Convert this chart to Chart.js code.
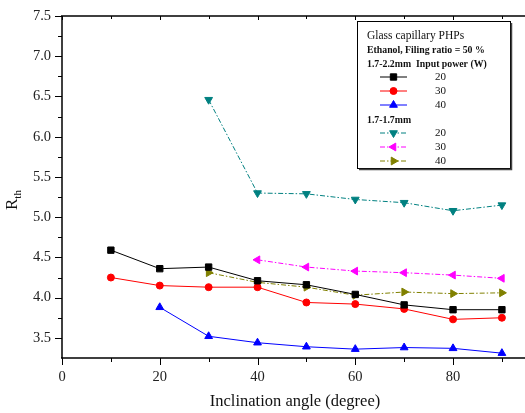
<!DOCTYPE html>
<html>
<head>
<meta charset="utf-8">
<script src="https://cdn.jsdelivr.net/npm/chart.js@4/dist/chart.umd.min.js"></script>
<style>
  html, body { margin: 0; padding: 0; background: #fff; }
  #wrap { width: 525px; height: 413px; }
</style>
</head>
<body>
<div id="wrap"><canvas id="rthChart"></canvas></div>
<script>
// data
const angles = [10, 20, 30, 40, 50, 60, 70, 80, 90];
const rth22_20 = [4.59, 4.36, 4.38, 4.21, 4.16, 4.04, 3.91, 3.85, 3.85];
const rth22_30 = [4.25, 4.15, 4.13, 4.13, 3.94, 3.92, 3.86, 3.73, 3.75];
const rth22_40 = [null, 3.88, 3.52, 3.44, 3.39, 3.36, 3.38, 3.37, 3.31];
const rth17_20 = [null, null, 6.46, 5.30, 5.29, 5.22, 5.18, 5.08, 5.15];
const rth17_30 = [null, null, null, 4.47, 4.38, 4.33, 4.31, 4.28, 4.24];
const rth17_40 = [null, null, 4.31, 4.19, 4.13, 4.03, 4.07, 4.05, 4.06];
const powerLabels = ['20', '30', '40'];

const xTicks = [0, 20, 40, 60, 80];
const xMinor = [10, 30, 50, 70, 90];
const yTicks = [3.5, 4.0, 4.5, 5.0, 5.5, 6.0, 6.5, 7.0, 7.5];
const yMinor = [3.75, 4.25, 4.75, 5.25, 5.75, 6.25, 6.75, 7.25];

const SERIF = "'Liberation Serif', 'Times New Roman', serif";
const dashDot = [5, 2, 1.5, 2];

function pts(vals) {
    return angles.map((a, i) => ({ x: a, y: vals[i] })).filter(p => p.y !== null);
}

function series(vals, color, style, rot, radius, dash) {
    return {
        data: pts(vals),
        borderColor: color,
        backgroundColor: color,
        borderWidth: 1,
        borderDash: dash,
        pointStyle: style,
        rotation: rot,
        pointRadius: radius,
        pointBorderWidth: 1,
        tension: 0
    };
}

const sets = [
    series(rth22_20, '#000000', 'rect', 0, 4.5, []),
    series(rth22_30, '#ff0000', 'circle', 0, 3.5, []),
    series(rth22_40, '#0000ff', 'triangle', 0, 4.5, []),
    series(rth17_20, '#008080', 'triangle', 180, 4.5, dashDot),
    series(rth17_30, '#ff00ff', 'triangle', -90, 4.5, dashDot),
    series(rth17_40, '#808000', 'triangle', 90, 4.5, dashDot)
];

// axes frame, titles and the Origin-style legend box
const framePlugin = {
    id: 'frame',
    afterDraw(chart) {
        const ctx = chart.ctx;
        const xs = chart.scales.x, ys = chart.scales.y;
        const a = chart.chartArea;
        const right = chart.width;
        ctx.save();
        ctx.strokeStyle = '#000';
        ctx.lineWidth = 1.5;
        ctx.beginPath();
        ctx.moveTo(a.left, a.top); ctx.lineTo(a.left, a.bottom);
        ctx.moveTo(a.left - 1, a.bottom); ctx.lineTo(right, a.bottom);
        ctx.moveTo(a.left - 1, a.top); ctx.lineTo(right, a.top);
        ctx.stroke();

        ctx.lineWidth = 1;
        ctx.beginPath();
        xTicks.concat(xMinor).forEach(v => {
            const x = Math.round(xs.getPixelForValue(v)) + 0.5;
            const len = xTicks.includes(v) ? 7 : 4;
            ctx.moveTo(x, a.bottom); ctx.lineTo(x, a.bottom + len);
            ctx.moveTo(x, a.top); ctx.lineTo(x, a.top + (xTicks.includes(v) ? 4 : 3));
        });
        yTicks.concat(yMinor).forEach(v => {
            const y = Math.round(ys.getPixelForValue(v)) + 0.5;
            const len = yTicks.includes(v) ? 7 : 4;
            ctx.moveTo(a.left - len, y); ctx.lineTo(a.left, y);
        });
        ctx.stroke();

        // axis titles
        ctx.fillStyle = '#111';
        ctx.font = '16.5px ' + SERIF;
        ctx.textAlign = 'center';
        ctx.textBaseline = 'alphabetic';
        ctx.fillText('Inclination angle (degree)', 295, 406);

        ctx.save();
        ctx.translate(17, 210);
        ctx.rotate(-Math.PI / 2);
        ctx.textAlign = 'left';
        ctx.font = '17px ' + SERIF;
        ctx.fillText('R', 0, 0);
        const rw = ctx.measureText('R').width;
        ctx.font = '11px ' + SERIF;
        ctx.fillText('th', rw, 4);
        ctx.restore();

        // legend
        const bx = 357, by = 21, bw = 153, bh = 147;
        ctx.fillStyle = '#fff';
        ctx.fillRect(bx, by, bw, bh);
        ctx.lineWidth = 1;
        ctx.strokeStyle = '#000';
        ctx.strokeRect(bx + 0.5, by + 0.5, bw, bh);
        ctx.lineWidth = 1.5;
        ctx.strokeStyle = '#444';
        ctx.beginPath();
        ctx.moveTo(bx + bw + 1.5, by + 2); ctx.lineTo(bx + bw + 1.5, by + bh + 1.5);
        ctx.lineTo(bx + 2, by + bh + 1.5);
        ctx.stroke();

        ctx.fillStyle = '#111';
        ctx.textAlign = 'left';
        ctx.textBaseline = 'middle';
        ctx.font = '11.5px ' + SERIF;
        ctx.fillText('Glass capillary PHPs', 367, 36);
        ctx.font = 'bold 9.8px ' + SERIF;
        ctx.fillText('Ethanol, Filing ratio = 50 %', 367, 50);
        ctx.fillText('1.7-2.2mm  Input power (W)', 367, 64.5);
        ctx.fillText('1.7-1.7mm', 367, 120.5);

        const rowsY = [77, 91, 105, 133, 147, 161];
        sets.forEach((ds, i) => {
            const y = rowsY[i];
            ctx.strokeStyle = ds.borderColor;
            ctx.fillStyle = ds.borderColor;
            ctx.lineWidth = 1;
            ctx.setLineDash(ds.borderDash);
            ctx.beginPath();
            ctx.moveTo(380, y); ctx.lineTo(407, y);
            ctx.stroke();
            ctx.setLineDash([]);
            Chart.helpers.drawPoint(ctx, {
                pointStyle: ds.pointStyle,
                rotation: ds.rotation,
                radius: ds.pointRadius,
                borderWidth: 1
            }, 393.5, y);
            ctx.fillStyle = '#111';
            ctx.font = '11px ' + SERIF;
            ctx.fillText(powerLabels[i % 3], 435, y);
        });
        ctx.restore();
    }
};

const tickFont = { family: SERIF, size: 14.5 };

new Chart(document.getElementById('rthChart').getContext('2d'), {
    type: 'line',
    data: { datasets: sets },
    options: {
        responsive: true,
        maintainAspectRatio: false,
        animation: false,
        layout: { padding: { top: 16, right: 0, bottom: 0, left: 0 } },
        plugins: {
            legend: { display: false },
            tooltip: { enabled: false }
        },
        scales: {
            x: {
                type: 'linear',
                min: 0,
                max: 93.6,
                grid: { display: false, drawTicks: true, tickLength: 7 },
                border: { display: false },
                ticks: { font: tickFont, color: '#222', padding: 3, maxRotation: 0, autoSkip: false },
                afterBuildTicks: s => { s.ticks = xTicks.map(v => ({ value: v })); },
                afterFit: s => { s.height = 55; }
            },
            y: {
                type: 'linear',
                min: 3.25,
                max: 7.5,
                grid: { display: false, drawTicks: true, tickLength: 7 },
                border: { display: false },
                ticks: { font: tickFont, color: '#222', padding: 4, autoSkip: false, callback: v => v.toFixed(1) },
                afterBuildTicks: s => { s.ticks = yTicks.map(v => ({ value: v })); },
                afterFit: s => { s.width = 62; }
            }
        }
    },
    plugins: [framePlugin]
});
</script>
</body>
</html>
